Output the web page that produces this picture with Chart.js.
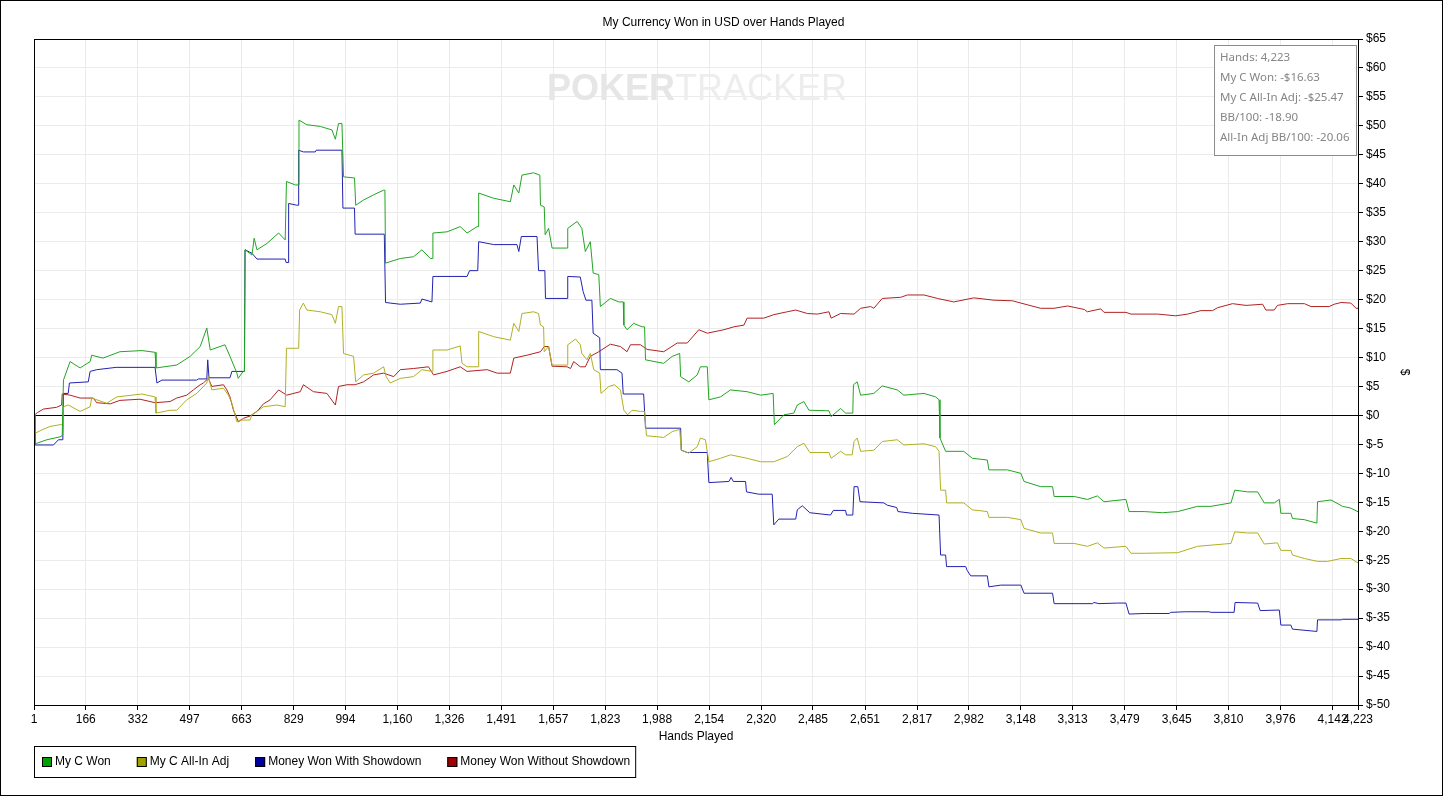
<!DOCTYPE html>
<html lang="en">
<head>
<meta charset="UTF-8">
<title>My Currency Won in USD over Hands Played</title>
<script src="https://cdn.jsdelivr.net/npm/chart.js"></script>
<style>
    body { margin: 0; background: #fff; }
    #wrap { width: 1443px; height: 796px; }
</style>
</head>
<body>
<div id="wrap"><canvas id="chart" width="1443" height="796"></canvas></div>
<script>
// tick labels on the hands axis
const handTicks = [1, 166, 332, 497, 663, 829, 994, 1160, 1326, 1491, 1657, 1823, 1988,
    2154, 2320, 2485, 2651, 2817, 2982, 3148, 3313, 3479, 3645, 3810, 3976, 4142, 4223];

// My C Won
const wonHands = [1, 4, 10, 42, 84, 91, 95, 116, 148, 180, 185, 221, 275, 345, 387, 390, 456, 499, 531, 552,
    563, 610, 626, 648, 652, 668, 672, 674, 696, 703, 712, 744, 781, 802, 806, 834, 843, 846, 871, 914,
    951, 962, 972, 983, 988, 1023, 1027, 1052, 1084, 1116, 1120, 1122, 1169, 1211, 1238, 1265, 1271, 1273, 1318, 1360,
    1382, 1414, 1417, 1419, 1467, 1520, 1531, 1547, 1557, 1594, 1614, 1616, 1628, 1631, 1642, 1653, 1701, 1703, 1733, 1748,
    1759, 1775, 1784, 1802, 1807, 1839, 1866, 1880, 1882, 1892, 1913, 1940, 1948, 1951, 2009, 2036, 2060, 2063, 2089, 2116,
    2126, 2148, 2153, 2190, 2222, 2275, 2318, 2358, 2362, 2392, 2424, 2435, 2456, 2472, 2536, 2543, 2573, 2589, 2612, 2614,
    2626, 2637, 2679, 2706, 2754, 2775, 2839, 2876, 2887, 2890, 2908, 2966, 2993, 3041, 3046, 3105, 3148, 3158, 3211, 3249,
    3254, 3318, 3360, 3392, 3413, 3483, 3493, 3541, 3600, 3648, 3711, 3754, 3818, 3830, 3871, 3903, 3924, 3956, 3972, 3977, 4009,
    4014, 4052, 4092, 4094, 4137, 4174, 4200, 4223];
const wonValues = [0, -5.0, -4.8, -4.2, -3.7, -3.5, 6.1, 9.3, 8.2, 9.3, 10.4, 9.9, 11.0, 11.2, 10.9, 8.2, 8.7, 10.2, 11.9, 15.1,
    11.3, 12.2, 10.2, 7.3, 6.4, 7.6, 7.6, 28.6, 27.7, 30.6, 28.6, 29.7, 31.5, 30.3, 40.4, 39.8, 39.8, 51.0, 50.2, 49.9,
    49.3, 47.7, 50.4, 50.4, 41.2, 41.0, 36.3, 37.2, 38.1, 38.9, 38.9, 26.3, 27.1, 27.4, 28.6, 27.1, 27.1, 31.5, 31.7, 32.6,
    31.5, 32.6, 32.6, 38.4, 37.5, 36.9, 39.8, 38.4, 41.5, 41.9, 41.5, 36.3, 36.0, 31.2, 32.3, 28.9, 28.9, 32.3, 33.5, 32.3,
    28.3, 30.0, 24.6, 24.3, 18.8, 20.2, 19.6, 19.6, 15.6, 14.8, 15.9, 15.3, 15.3, 9.6, 9.0, 10.2, 10.7, 6.7, 5.8, 7.0,
    8.4, 8.4, 2.7, 3.2, 4.4, 4.1, 3.5, 3.8, -1.6, 0.1, 0.4, 1.8, 2.4, 0.9, 0.8, -0.2, 1.2, 0.4, 0.4, 5.3,
    5.8, 3.5, 3.8, 5.1, 4.4, 3.5, 3.8, 3.2, 2.7, -3.9, -6.2, -6.2, -7.4, -7.7, -9.4, -9.4, -10.0, -11.4, -12.3, -12.3,
    -14.0, -14.0, -14.5, -13.9, -14.9, -14.5, -16.6, -16.6, -16.8, -16.6, -15.7, -15.7, -15.1, -12.9, -13.2, -13.2, -15.1, -15.1, -14.5, -16.9, -16.9,
    -17.8, -18.0, -18.6, -14.9, -14.6, -15.7, -16.0, -16.63];

// My C All-In Adj
const adjHands = [1, 4, 26, 52, 84, 93, 95, 110, 148, 180, 185, 233, 265, 345, 387, 390, 435, 456, 488, 520,
    552, 557, 568, 605, 621, 632, 648, 658, 690, 696, 712, 733, 776, 802, 806, 845, 848, 860, 871, 914,
    951, 962, 972, 983, 988, 1020, 1027, 1052, 1084, 1116, 1124, 1137, 1169, 1211, 1238, 1271, 1273, 1318, 1360, 1366,
    1382, 1417, 1419, 1467, 1520, 1531, 1547, 1557, 1594, 1610, 1616, 1626, 1628, 1642, 1653, 1701, 1703, 1728, 1743, 1748,
    1764, 1775, 1786, 1805, 1809, 1834, 1852, 1871, 1882, 1894, 1908, 1935, 1948, 1954, 2009, 2036, 2060, 2065, 2089, 2116,
    2126, 2142, 2153, 2190, 2222, 2275, 2318, 2360, 2403, 2435, 2456, 2475, 2536, 2543, 2573, 2589, 2610, 2616, 2626, 2637,
    2679, 2706, 2754, 2775, 2839, 2876, 2887, 2892, 2908, 2911, 2966, 2993, 3041, 3046, 3105, 3148, 3158, 3211, 3249, 3254,
    3318, 3360, 3392, 3413, 3483, 3499, 3541, 3648, 3711, 3818, 3830, 3871, 3903, 3924, 3966, 3977, 4009, 4014, 4052, 4094,
    4126, 4169, 4200, 4223];
const adjValues = [0, -3.1, -2.5, -1.9, -1.6, -1.6, 1.5, 1.8, 0.7, 1.5, 3.0, 2.1, 3.2, 3.7, 3.2, 0.4, 0.9, 0.9, 2.7, 3.8,
    5.6, 6.7, 4.4, 4.7, 3.5, 2.1, -1.1, -0.8, -0.8, 0.1, 0.7, 1.5, 1.8, 1.5, 11.6, 11.6, 18.2, 19.4, 18.2, 17.9,
    17.4, 15.9, 18.8, 18.8, 10.7, 10.2, 5.8, 7.0, 7.3, 8.4, 6.7, 5.6, 6.4, 6.7, 7.9, 7.6, 11.3, 11.3, 12.0, 9.0,
    8.4, 8.4, 14.5, 13.6, 13.0, 15.9, 14.5, 17.6, 17.9, 17.6, 15.6, 15.3, 11.0, 11.9, 8.7, 8.7, 12.2, 13.2, 12.2, 10.7,
    9.6, 10.7, 7.9, 7.3, 3.8, 5.0, 5.3, 4.4, 0.9, 0.1, 0.9, 0.7, 0.7, -3.5, -3.8, -2.8, -2.4, -6.0, -6.5, -5.4,
    -3.9, -4.2, -8.0, -7.4, -6.8, -7.4, -8.0, -8.0, -7.1, -5.4, -4.8, -6.4, -6.4, -7.4, -6.2, -6.8, -6.8, -4.5, -3.9, -6.2,
    -6.0, -4.5, -4.2, -5.1, -4.9, -5.4, -6.2, -12.9, -12.9, -15.1, -15.1, -16.3, -16.6, -17.6, -17.6, -18.0, -19.5, -20.3, -20.3, -22.1,
    -22.1, -22.6, -22.0, -22.9, -22.6, -23.8, -23.8, -23.7, -22.6, -22.1, -20.1, -20.3, -20.3, -22.2, -22.0, -23.3, -23.3, -24.1, -24.7, -25.2,
    -25.2, -24.7, -24.7, -25.47];

// Money Won With Showdown
const sdHands = [1, 4, 63, 79, 93, 95, 110, 114, 174, 180, 201, 263, 387, 393, 409, 520, 525, 552, 555, 559,
    626, 632, 672, 674, 696, 712, 802, 805, 811, 813, 839, 843, 845, 860, 898, 901, 983, 986, 1023, 1025,
    1118, 1122, 1169, 1233, 1238, 1270, 1273, 1382, 1390, 1416, 1419, 1467, 1541, 1547, 1555, 1605, 1610, 1630, 1632, 1701,
    1703, 1743, 1752, 1761, 1780, 1784, 1805, 1807, 1860, 1876, 1880, 1945, 1951, 2063, 2065, 2084, 2148, 2153, 2217, 2224,
    2231, 2270, 2273, 2312, 2355, 2360, 2376, 2430, 2435, 2451, 2475, 2541, 2550, 2589, 2592, 2612, 2616, 2628, 2635, 2711,
    2722, 2752, 2756, 2802, 2887, 2892, 2908, 2911, 2972, 2977, 2988, 3041, 3046, 3084, 3148, 3158, 3249, 3254, 3376, 3381,
    3397, 3456, 3483, 3493, 3541, 3621, 3626, 3674, 3748, 3754, 3828, 3831, 3903, 3911, 3972, 3977, 4009, 4014, 4092, 4094,
    4169, 4174, 4223];
const sdValues = [0, -5.1, -5.1, -4.2, -4.2, 3.8, 3.8, 5.6, 5.8, 7.6, 7.9, 8.3, 8.3, 5.6, 6.1, 6.1, 6.3, 6.3, 9.6, 6.5,
    6.5, 7.6, 7.6, 28.6, 28.0, 27.0, 27.0, 26.4, 26.4, 36.6, 36.3, 36.3, 45.8, 45.5, 45.5, 45.8, 45.8, 35.8, 35.8, 31.3,
    31.3, 19.5, 19.2, 19.4, 20.1, 19.6, 24.0, 24.0, 25.0, 25.0, 30.0, 29.5, 29.5, 28.3, 30.9, 30.9, 25.0, 25.0, 20.2, 20.2,
    24.0, 23.9, 21.4, 19.9, 19.9, 14.2, 13.4, 7.9, 7.9, 7.3, 3.7, 3.7, -2.2, -2.2, -6.0, -6.4, -6.4, -11.6, -11.4, -10.7,
    -11.4, -11.4, -13.2, -13.6, -13.6, -18.9, -17.9, -17.9, -16.3, -15.6, -16.8, -17.2, -16.4, -16.4, -17.2, -17.2, -12.3, -12.3, -14.9, -15.1,
    -15.5, -15.9, -16.6, -16.9, -17.2, -24.1, -24.1, -26.1, -26.1, -26.8, -27.7, -27.7, -29.6, -29.3, -29.3, -30.7, -30.7, -32.5, -32.5, -32.3,
    -32.5, -32.4, -32.4, -34.3, -34.2, -34.2, -34.0, -33.9, -33.9, -34.0, -34.0, -32.3, -32.4, -33.7, -33.6, -36.2, -36.2, -36.9, -37.3, -35.3,
    -35.3, -35.2, -35.2];

// Money Won Without Showdown
const nsdHands = [1, 12, 31, 73, 89, 91, 116, 148, 190, 201, 244, 275, 339, 387, 435, 456, 488, 509, 531, 541,
    557, 568, 605, 616, 626, 637, 653, 669, 690, 712, 733, 754, 781, 807, 850, 860, 892, 935, 962, 972,
    999, 1025, 1052, 1084, 1116, 1148, 1169, 1211, 1259, 1275, 1318, 1360, 1382, 1446, 1478, 1520, 1531, 1573, 1616, 1628,
    1642, 1653, 1701, 1712, 1722, 1743, 1759, 1775, 1802, 1839, 1871, 1892, 1903, 1935, 1956, 2009, 2052, 2084, 2121, 2148,
    2201, 2233, 2265, 2275, 2328, 2360, 2403, 2430, 2467, 2499, 2536, 2543, 2573, 2616, 2637, 2669, 2679, 2706, 2765, 2786,
    2839, 2882, 2934, 2998, 3062, 3121, 3148, 3211, 3254, 3297, 3350, 3360, 3403, 3413, 3483, 3499, 3584, 3642, 3680, 3722,
    3759, 3775, 3823, 3866, 3919, 3929, 3956, 3966, 3999, 4052, 4073, 4131, 4147, 4169, 4200, 4217, 4223];
const nsdValues = [0, 0.5, 1.1, 1.4, 1.8, 3.7, 3.5, 3.0, 3.0, 2.2, 2.0, 2.6, 2.8, 2.2, 2.4, 3.0, 3.5, 4.4, 5.3, 5.6,
    6.4, 5.0, 5.3, 4.4, 3.2, 0.9, -1.1, -0.5, -0.1, 0.7, 2.0, 2.7, 4.4, 3.5, 4.1, 5.3, 4.1, 3.8, 1.8, 5.0,
    5.3, 5.3, 5.8, 7.0, 7.3, 6.7, 7.9, 8.1, 8.4, 7.0, 7.6, 8.4, 7.6, 7.9, 7.3, 7.3, 9.9, 10.4, 11.0, 11.9,
    11.9, 8.5, 8.4, 8.1, 9.3, 8.4, 8.4, 10.2, 11.0, 12.3, 11.9, 11.0, 12.2, 12.2, 11.4, 11.0, 12.5, 12.5, 14.8, 14.2,
    14.8, 15.3, 15.6, 16.8, 16.8, 17.4, 17.9, 18.2, 17.6, 17.5, 17.9, 16.8, 17.6, 17.5, 18.5, 18.8, 18.5, 20.2, 20.4, 20.8,
    20.8, 20.2, 19.6, 20.3, 19.9, 19.8, 19.4, 18.5, 18.5, 18.9, 18.3, 17.9, 18.4, 17.8, 17.8, 17.5, 17.5, 17.2, 17.5, 18.1,
    18.1, 18.6, 19.3, 19.0, 19.2, 18.2, 18.2, 19.0, 19.3, 19.3, 18.8, 18.8, 19.2, 19.5, 19.4, 18.5, 18.5];

const infoLines = ['Hands: 4,223', 'My C Won: -$16.63', 'My C All-In Adj: -$25.47',
    'BB/100: -18.90', 'All-In Adj BB/100: -20.06'];

function points(hands, values) {
    return hands.map((h, i) => ({ x: h, y: values[i] }));
}

Chart.defaults.font.family = '"Liberation Sans", Arial, sans-serif';
Chart.defaults.font.size = 12;
Chart.defaults.color = '#000';

// frame, watermark, info box and legend
const decorPlugin = {
    id: 'decor',
    beforeDatasetsDraw(chart) {
        const ctx = chart.ctx;
        ctx.save();
        ctx.textBaseline = 'middle';
        ctx.fillStyle = '#e6e6e6';
        ctx.font = 'bold 36px "Liberation Sans", Arial, sans-serif';
        const w1 = ctx.measureText('POKER').width;
        ctx.fillText('POKER', 547, 90);
        ctx.fillStyle = '#ededed';
        ctx.font = '36px "Liberation Sans", Arial, sans-serif';
        ctx.fillText('TRACKER', 547 + w1, 90);
        ctx.restore();
    },
    afterDraw(chart) {
        const ctx = chart.ctx;
        const a = chart.chartArea;
        ctx.save();
        ctx.strokeStyle = '#000';
        ctx.lineWidth = 1;
        ctx.strokeRect(Math.round(a.left) + 0.5, Math.round(a.top) + 0.5,
            Math.round(a.right - a.left), Math.round(a.bottom - a.top));
        ctx.strokeRect(0.5, 0.5, 1442, 795);

        // info box
        ctx.fillStyle = '#fff';
        ctx.fillRect(1214, 45, 142, 110);
        ctx.strokeStyle = '#8c8c8c';
        ctx.strokeRect(1214.5, 45.5, 142, 110);
        ctx.fillStyle = '#858585';
        ctx.font = '11.5px "Noto Sans", "Open Sans", sans-serif';
        ctx.textBaseline = 'middle';
        infoLines.forEach((t, i) => ctx.fillText(t, 1220, 58 + i * 20));

        // legend
        ctx.font = '12px "Liberation Sans", Arial, sans-serif';
        let x = 42;
        chart.data.datasets.forEach(ds => {
            ctx.fillStyle = ds.legendColor;
            ctx.fillRect(x, 757, 10, 10);
            ctx.strokeStyle = '#000';
            ctx.strokeRect(x + 0.5, 757.5, 9, 9);
            ctx.fillStyle = '#000';
            ctx.fillText(ds.label, x + 13, 762);
            x += 13 + ctx.measureText(ds.label).width + 26;
        });
        ctx.strokeStyle = '#000';
        ctx.strokeRect(34.5, 746.5, x - 26 + 5 - 34, 31);
        ctx.restore();
    }
};

new Chart(document.getElementById('chart'), {
    type: 'line',
    data: {
        datasets: [
            { label: 'My C Won', data: points(wonHands, wonValues), borderColor: '#22a522', legendColor: '#00a000' },
            { label: 'My C All-In Adj', data: points(adjHands, adjValues), borderColor: '#b0b022', legendColor: '#a0a000' },
            { label: 'Money Won With Showdown', data: points(sdHands, sdValues), borderColor: '#2222b0', legendColor: '#0000a0' },
            { label: 'Money Won Without Showdown', data: points(nsdHands, nsdValues), borderColor: '#b02222', legendColor: '#a00000' }
        ]
    },
    options: {
        responsive: false,
        animation: false,
        devicePixelRatio: 1,
        layout: { padding: { left: 34, top: 0, right: 30, bottom: 50 } },
        elements: {
            line: { borderWidth: 1, tension: 0 },
            point: { radius: 0 }
        },
        plugins: {
            legend: { display: false },
            tooltip: { enabled: false },
            title: {
                display: true,
                text: 'My Currency Won in USD over Hands Played',
                font: { size: 12, weight: 'normal' },
                color: '#000',
                padding: { top: 15, bottom: 9.6 }
            }
        },
        scales: {
            x: {
                type: 'linear',
                min: 1,
                max: 4223,
                afterBuildTicks(scale) {
                    scale.ticks = handTicks.map(v => ({ value: v }));
                },
                afterFit(scale) { scale.height = 41; },
                ticks: {
                    autoSkip: false,
                    maxRotation: 0,
                    padding: 2,
                    callback: v => v.toLocaleString('en-US')
                },
                grid: { color: '#ebebeb', tickColor: '#000', tickLength: 5 },
                border: { color: '#000' },
                title: { display: true, text: 'Hands Played', padding: { top: 2, bottom: 2 } }
            },
            y: {
                position: 'right',
                min: -50,
                max: 65,
                afterFit(scale) { scale.width = 55; },
                ticks: {
                    stepSize: 5,
                    padding: 3,
                    callback: v => '$' + v
                },
                grid: {
                    color: c => (c.tick && c.tick.value === 0) ? '#000' : '#ebebeb',
                    tickColor: '#000',
                    tickLength: 5
                },
                border: { color: '#000' },
                title: { display: true, text: '$', padding: { top: 1, bottom: 1 } }
            }
        }
    },
    plugins: [decorPlugin]
});
</script>
</body>
</html>
